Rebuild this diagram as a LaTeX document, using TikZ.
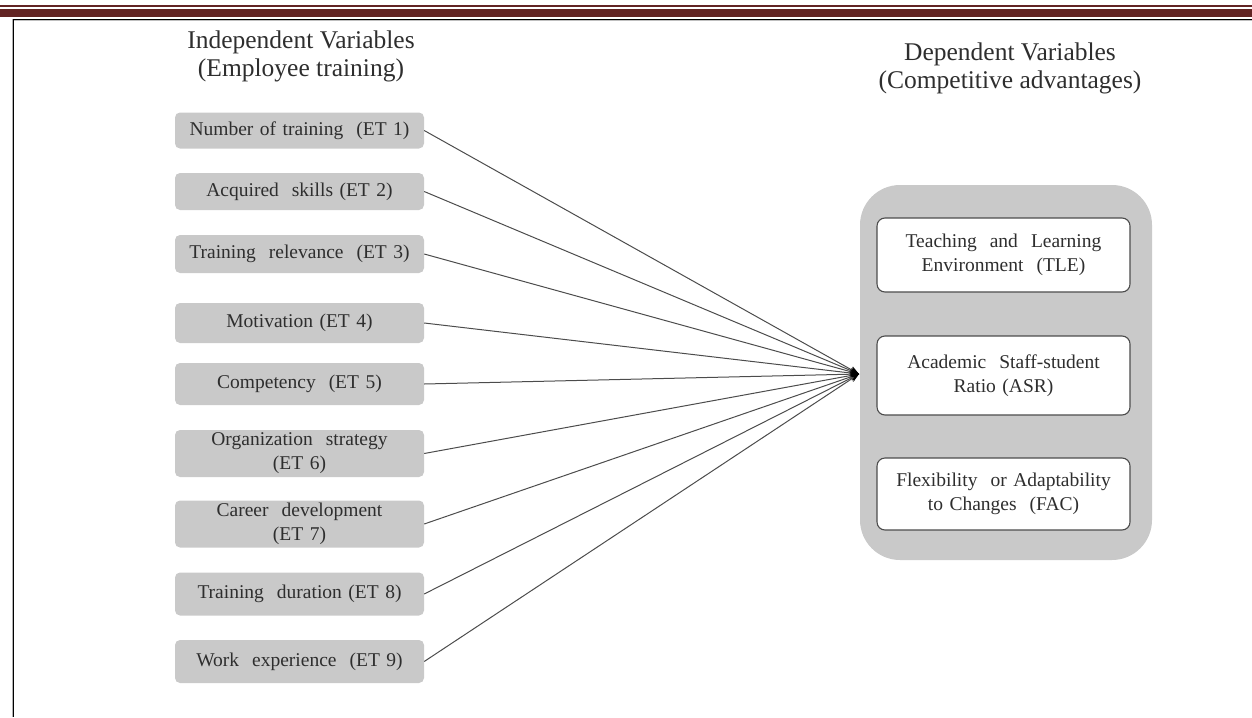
\documentclass[tikz,border=0pt]{standalone}
\usepackage{fontspec}
\setmainfont{Liberation Serif}
\usepackage{tikz}
\usetikzlibrary{arrows.meta}

\definecolor{hdrred}{HTML}{622423}
\definecolor{boxgray}{HTML}{C9C9C9}
\definecolor{txtgray}{HTML}{2E2E2E}
\newcommand{\BoxFont}{\fontsize{19.5}{24}\selectfont}
\newcommand{\HeadFont}{\fontsize{25.5}{28}\selectfont}

\tikzset{
  indep/.style={fill=boxgray, rounded corners=5pt, minimum width=249pt,
    text width=240pt, align=center, inner sep=0pt, text=txtgray, font=\BoxFont},
  depbox/.style={fill=white, draw=black!70, line width=1.1pt, rounded corners=8pt,
    minimum width=253pt, text width=245pt, align=center, inner sep=0pt,
    text=txtgray, font=\BoxFont},
  head/.style={align=center, text=txtgray, font=\HeadFont, inner sep=0pt},
  link/.style={draw=black!70, line width=1pt,
    -{Stealth[length=9pt,width=7pt,color=black]}}
}

\begin{document}
\begin{tikzpicture}[x=1pt, y=-1pt]
  
  \useasboundingbox (0,0) rectangle (1252,717);
  
  %% page header rules
  \fill[hdrred] (0,4.8) rectangle (1252,6.6);
  \fill[hdrred] (0,9) rectangle (1252,17);
  \draw[black!25, line width=1pt] (12,21) -- (1252,21);
  \draw[black, line width=1.4pt] (13.5,19.5) -- (1252,19.5);
  \draw[black!30, line width=1pt] (12,19.5) -- (12,717);
  \draw[black, line width=1.4pt] (13.5,19.5) -- (13.5,717);
  
  %% titles
  \node[head] (indhead) at (301,56) {Independent Variables\\(Employee training)};
  \node[head] (dephead) at (1010,68) {Dependent Variables\\(Competitive advantages)};
  
  %% independent variables
  \node[indep, minimum height=36pt] (et1) at (299.5,130.5) {Number of training~ (ET 1)};
  \node[indep, minimum height=37pt] (et2) at (299.5,191.5) {Acquired~ skills (ET 2)};
  \node[indep, minimum height=38pt] (et3) at (299.5,254) {Training~ relevance~ (ET 3)};
  \node[indep, minimum height=40pt] (et4) at (299.5,323) {Motivation (ET 4)};
  \node[indep, minimum height=42pt] (et5) at (299.5,384) {Competency~ (ET 5)};
  \node[indep, minimum height=47pt] (et6) at (299.5,453.5) {Organization~ strategy\\(ET 6)};
  \node[indep, minimum height=47pt] (et7) at (299.5,524) {Career~ development\\(ET 7)};
  \node[indep, minimum height=43pt] (et8) at (299.5,594) {Training~ duration (ET 8)};
  \node[indep, minimum height=43pt] (et9) at (299.5,661.5) {Work~ experience~ (ET 9)};
  
  %% dependent variables
  \node[fill=boxgray, rounded corners=40pt, minimum width=292pt, minimum height=375pt,
    inner sep=0pt] (dep) at (1006,372.5) {};
  \node[depbox, minimum height=74pt] (tle) at (1003.5,255) {Teaching~ and~ Learning\\Environment~ (TLE)};
  \node[depbox, minimum height=79pt] (asr) at (1003.5,375.5) {Academic~ Staff-student\\Ratio (ASR)};
  \node[depbox, minimum height=72pt] (fac) at (1003.5,494) {Flexibility~ or Adaptability\\to Changes~ (FAC)};
  
  %% connectors
  \coordinate (hub) at (859,374);
  \draw[link] (et1.east) -- (hub);
  \draw[link] (et2.east) -- (hub);
  \draw[link] (et3.east) -- (hub);
  \draw[link] (et4.east) -- (hub);
  \draw[link] (et5.east) -- (hub);
  \draw[link] (et6.east) -- (hub);
  \draw[link] (et7.east) -- (hub);
  \draw[link] (et8.east) -- (hub);
  \draw[link] (et9.east) -- (hub);
\end{tikzpicture}
\end{document}
